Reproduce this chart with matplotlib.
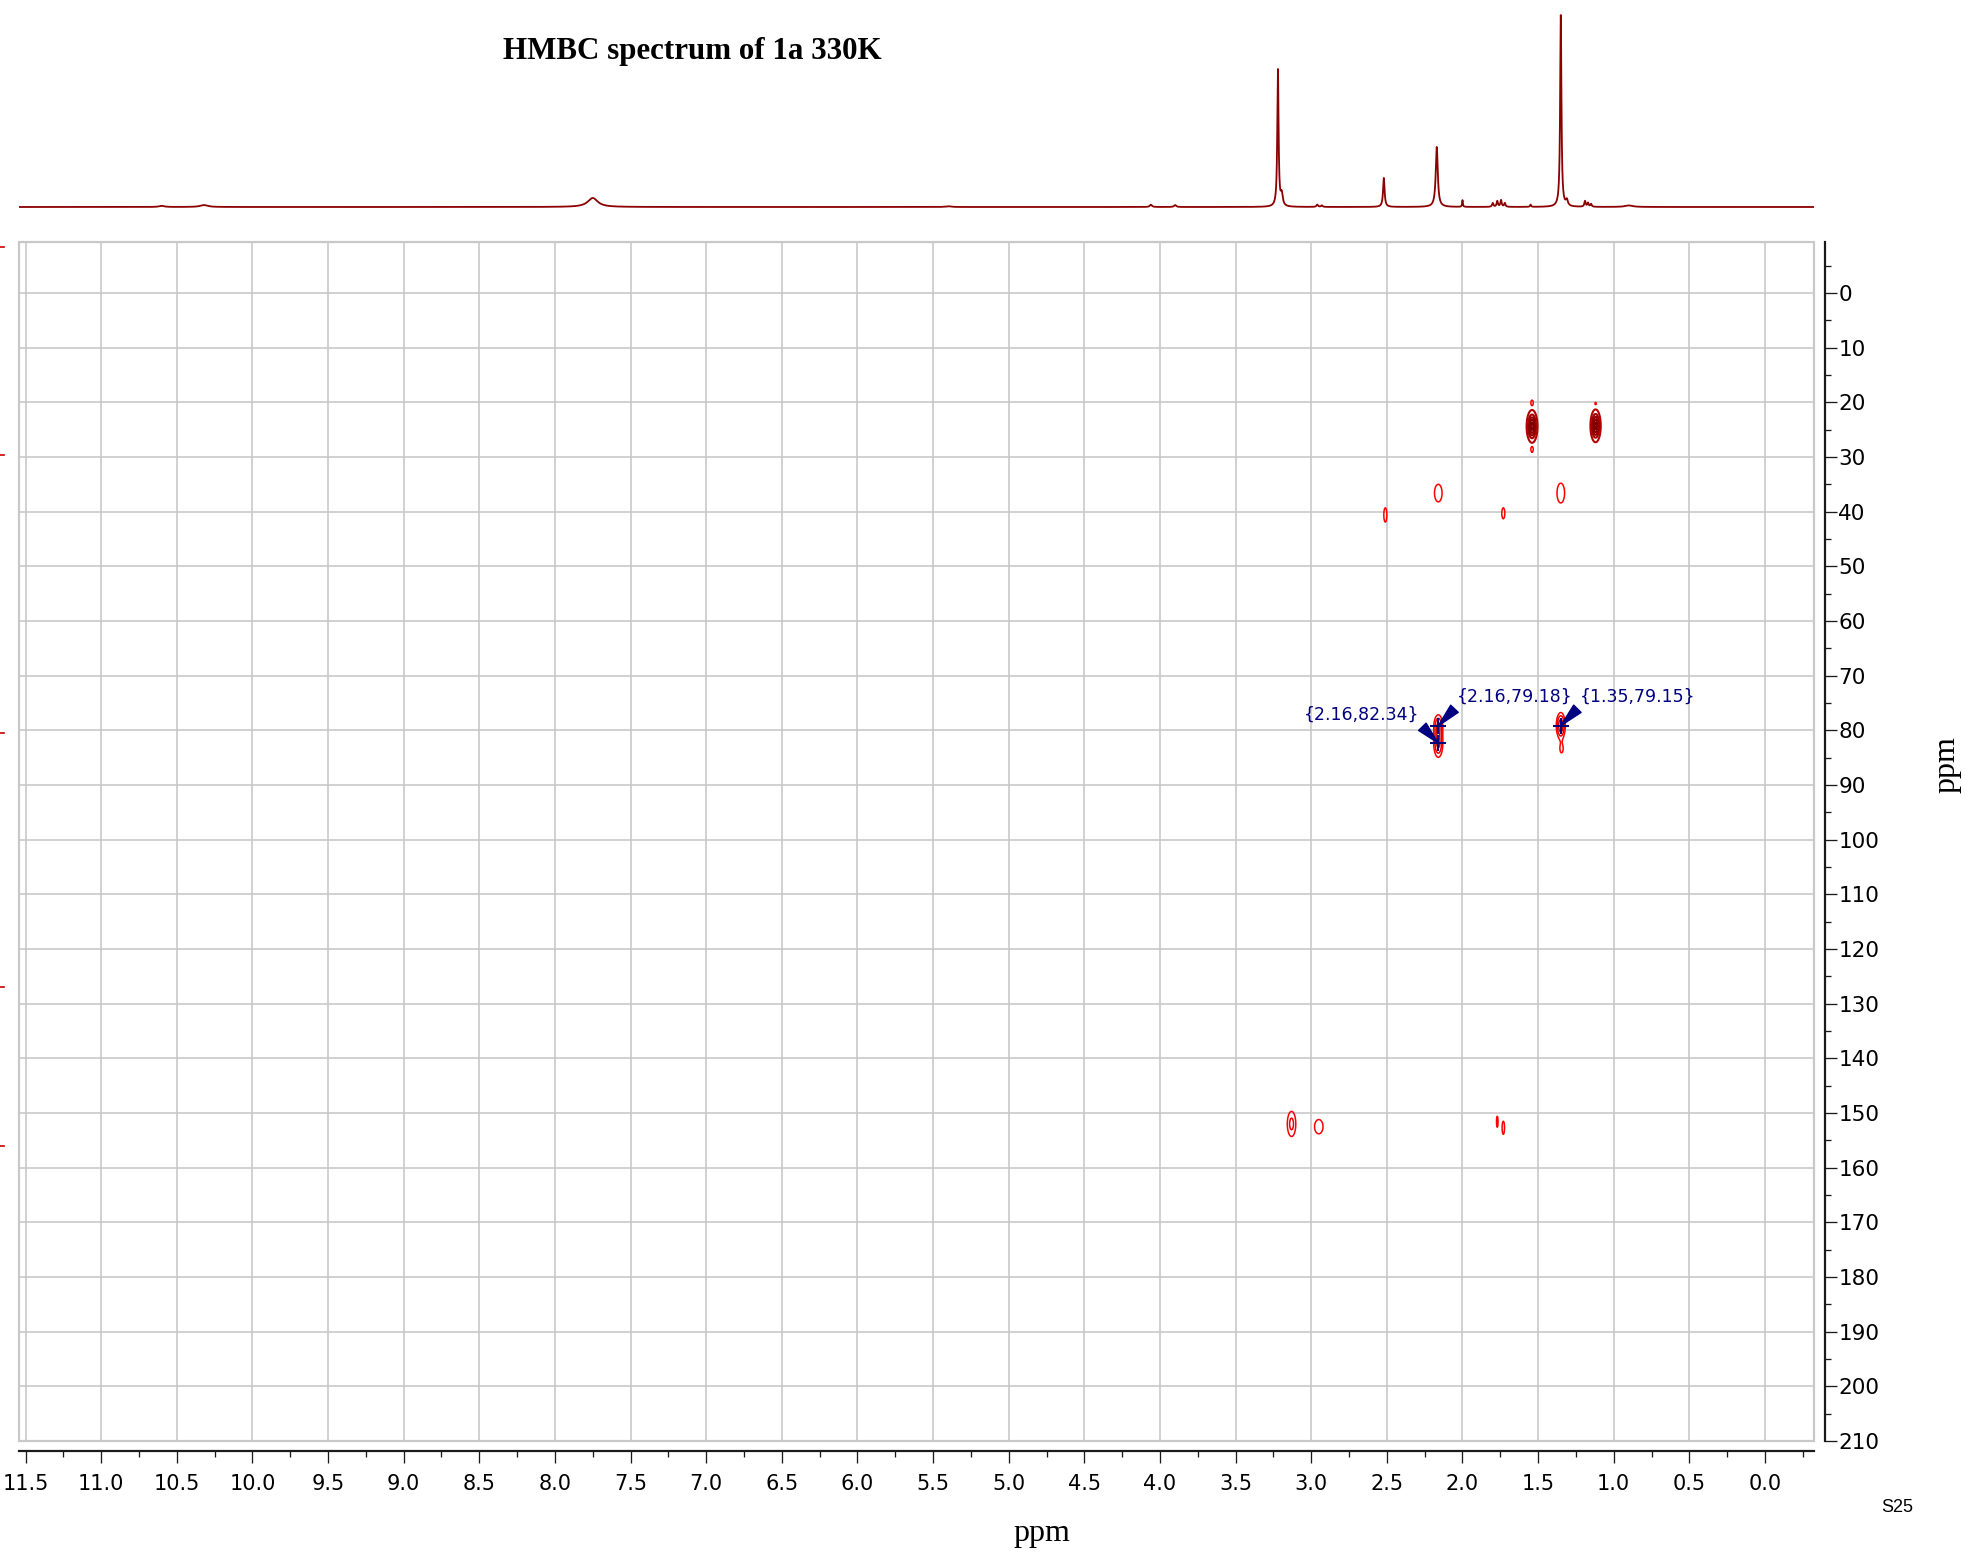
"""HMBC spectrum of 1a at 330 K: 2D contour map with 1H projection on top."""

import matplotlib
matplotlib.use("Agg")
import matplotlib.pyplot as plt
import matplotlib.transforms as mtransforms
from matplotlib.patches import Rectangle
from matplotlib.ticker import MultipleLocator, FormatStrFormatter
import numpy as np

W, H = 1966, 1558
DPI = 100

# axis ranges (ppm)
x_left, x_right = 11.543, -0.324
y_top, y_bottom = -9.33, 210.0

# 1H projection peaks: shift (ppm), relative height, half width (ppm)
h_shift = [10.60, 10.32, 7.75, 5.40, 4.06, 3.90, 3.22, 3.195, 2.96, 2.93,
           2.52, 2.17, 2.00, 1.80, 1.77, 1.745, 1.72, 1.55, 1.35, 1.31,
           1.19, 1.17, 1.15, 0.90]
h_height = [0.006, 0.010, 0.047, 0.004, 0.012, 0.010, 0.713, 0.06, 0.012, 0.008,
            0.151, 0.3125, 0.035, 0.020, 0.030, 0.035, 0.020, 0.012, 1.0, 0.03,
            0.030, 0.020, 0.015, 0.008]
h_width = [0.02, 0.03, 0.04, 0.02, 0.008, 0.008, 0.005, 0.008, 0.006, 0.006,
           0.006, 0.008, 0.003, 0.005, 0.005, 0.005, 0.005, 0.004, 0.005, 0.008,
           0.005, 0.005, 0.005, 0.03]

# HMBC cross peaks: 1H shift, 13C shift, intensity, half extent of outer contour
cp_h = [1.54, 1.12, 1.54, 1.54, 1.12, 2.16, 1.35, 2.51, 1.73,
        2.16, 2.16, 1.35, 1.345, 3.13, 2.95, 1.77, 1.73]
cp_c = [24.4, 24.3, 20.1, 28.6, 20.2, 36.6, 36.6, 40.6, 40.3,
        79.18, 82.34, 79.15, 83.4, 152.0, 152.5, 151.6, 152.7]
cp_amp = [1.0, 1.0, 0.13, 0.13, 0.105, 0.14, 0.14, 0.13, 0.13,
          0.35, 0.40, 0.50, 0.12, 0.24, 0.13, 0.12, 0.13]
cp_ex = [0.036, 0.034, 0.008, 0.008, 0.004, 0.025, 0.025, 0.010, 0.010,
         0.028, 0.030, 0.030, 0.010, 0.028, 0.028, 0.005, 0.008]
cp_ey = [3.0, 3.0, 0.5, 0.5, 0.2, 1.6, 1.8, 1.3, 1.0,
         2.0, 2.6, 2.4, 0.7, 2.3, 1.3, 1.0, 1.2]

contour_levels = [0.1, 0.2, 0.35, 0.5, 0.65, 0.8]
contour_colors = ["#ff0000", "#e80000", "#cc0000", "#b00000", "#980000", "#840000"]
strong_levels = [0.1, 0.3, 0.5, 0.7, 0.9]
strong_colors = ["#b40000", "#a40000", "#960000", "#8a0000", "#800000"]

# picked peaks and their label positions
pick_h = [2.16, 2.16, 1.35]
pick_c = [82.34, 79.18, 79.15]
label_h = [2.665, 1.653, 0.84]
label_c = [77.2, 73.9, 73.9]
label_relpos = [(1.0, 0.0), (0.0, 0.0), (0.0, 0.0)]

# clipped traces of the 13C projection at the left edge
side_marks = [-8.4, 29.6, 80.5, 127.0, 156.0]

GRID = "#c8c8c8"
NAVY = "#000080"
TRACE = "#8b0000"


def px(v):
    """pixels -> points"""
    return v * 72.0 / DPI


def proton_trace(x):
    y = np.zeros_like(x)
    for s, h, w in zip(h_shift, h_height, h_width):
        y += h / (1.0 + ((x - s) / w) ** 2)
    return y


def hmbc_map(xg, yg, strong):
    X, Y = np.meshgrid(xg, yg)
    Z = np.zeros_like(X)
    base = contour_levels[0]
    for h, c, a, ex, ey in zip(cp_h, cp_c, cp_amp, cp_ex, cp_ey):
        if (a > 0.8) != strong:
            continue
        r = np.sqrt(2.0 * np.log(a / base))
        sx, sy = ex / r, ey / r
        Z += a * np.exp(-0.5 * (((X - h) / sx) ** 2 + ((Y - c) / sy) ** 2))
    return Z


def main():
    fig = plt.figure(figsize=(W / DPI, H / DPI), dpi=DPI)

    left, right = 19, 1814
    top, bottom = 242, 1441
    ax = fig.add_axes([left / W, 1 - bottom / H, (right - left) / W, (bottom - top) / H])
    ax_top = fig.add_axes([left / W, 1 - top / H, (right - left) / W, top / H])

    # 1H projection
    xs = np.linspace(x_left, x_right, 24000)
    ax_top.plot(xs, proton_trace(xs), color=TRACE, lw=1.3)
    ax_top.set_xlim(x_left, x_right)
    ax_top.set_ylim(-0.1823, 1.078)
    ax_top.axis("off")

    # 2D map
    xg = np.linspace(3.4, 0.9, 1501)
    yg = np.linspace(15, 160, 1451)
    ax.contour(xg, yg, hmbc_map(xg, yg, False), levels=contour_levels,
               colors=contour_colors, linewidths=1.1, zorder=3)
    ax.contour(xg, yg, hmbc_map(xg, yg, True), levels=strong_levels,
               colors=strong_colors, linewidths=1.5, zorder=3)

    ax.set_xlim(x_left, x_right)
    ax.set_ylim(y_bottom, y_top)
    ax.xaxis.set_major_locator(MultipleLocator(0.5))
    ax.xaxis.set_minor_locator(MultipleLocator(0.25))
    ax.xaxis.set_major_formatter(FormatStrFormatter("%.1f"))
    ax.yaxis.set_major_locator(MultipleLocator(10))
    ax.yaxis.set_minor_locator(MultipleLocator(5))
    ax.yaxis.set_major_formatter(FormatStrFormatter("%d"))
    ax.yaxis.tick_right()
    ax.set_axisbelow(True)
    ax.grid(True, which="major", color=GRID, lw=px(1.6))

    for side in ("top", "left"):
        ax.spines[side].set_visible(False)
    ax.spines["bottom"].set_position(("outward", px(10)))
    ax.spines["right"].set_position(("outward", px(11)))
    for side in ("bottom", "right"):
        ax.spines[side].set_color("#1a1a1a")
        ax.spines[side].set_linewidth(px(2.2))
    ax.add_patch(Rectangle((0, 0), 1, 1, transform=ax.transAxes, fill=False,
                           ec=GRID, lw=px(2.2), clip_on=False, zorder=1))

    ax.tick_params(axis="x", which="major", direction="out", length=px(12),
                   width=px(1.3), labelsize=15, pad=8, color="#1a1a1a")
    ax.tick_params(axis="x", which="minor", direction="out", length=px(6),
                   width=px(1.3), color="#1a1a1a")
    ax.tick_params(axis="y", which="major", direction="out", length=px(12),
                   width=px(1.3), labelsize=15.5, pad=1, color="#1a1a1a")
    ax.tick_params(axis="y", which="minor", direction="out", length=px(6),
                   width=px(1.3), color="#1a1a1a")

    # picked peaks
    for h, c, th, tc, rp in zip(pick_h, pick_c, label_h, label_c, label_relpos):
        ax.plot([h], [c], marker="+", ms=11, mew=1.4, color=NAVY, zorder=5)
        ax.annotate(f"{{{h:.2f},{c:.2f}}}", xy=(h, c), xytext=(th, tc),
                    ha="center", va="center", fontsize=12.5, color=NAVY, zorder=6,
                    arrowprops=dict(arrowstyle="wedge,tail_width=0.6,shrink_factor=0.5",
                                    color=NAVY, relpos=rp, shrinkA=0, shrinkB=0))

    trans = mtransforms.blended_transform_factory(ax.transAxes, ax.transData)
    for m in side_marks:
        ax.plot([-left / (right - left), -(left - 4) / (right - left)], [m, m],
                color="#cc0000", lw=1.2, transform=trans, clip_on=False)

    fig.text(692 / W, 1 - 51 / H, "HMBC spectrum of 1a 330K", ha="center", va="center",
             fontsize=22.3, fontweight="bold", family="Liberation Serif")
    fig.text(1042 / W, 1 - 1534 / H, "ppm", ha="center", va="center",
             fontsize=23, family="Liberation Serif")
    fig.text(1947 / W, 1 - 765 / H, "ppm", ha="center", va="center", rotation=90,
             fontsize=23, family="Liberation Serif")
    fig.text(1897 / W, 1 - 1507 / H, "S25", ha="center", va="center",
             fontsize=13, family="Liberation Sans")

    fig.savefig("out.png", dpi=DPI)
    plt.close(fig)


if __name__ == "__main__":
    main()
